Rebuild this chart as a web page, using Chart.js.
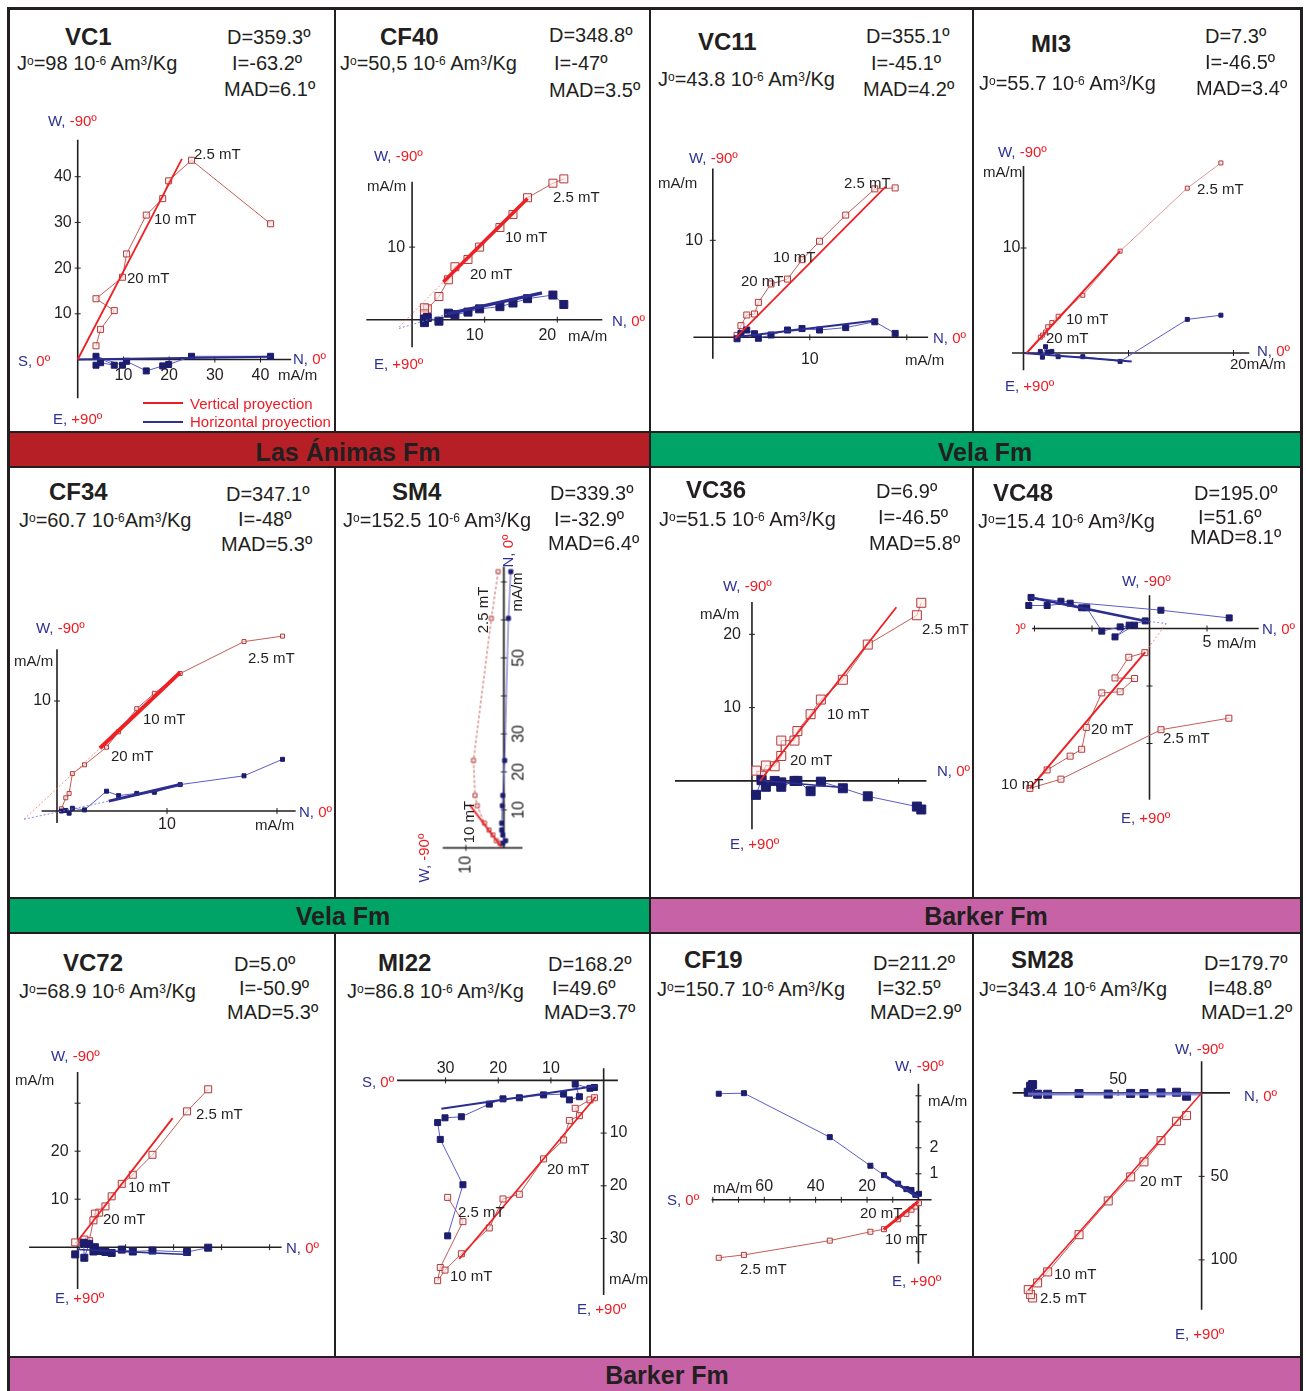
<!DOCTYPE html>
<html>
<head>
<meta charset="utf-8">
<title>Zijderveld diagrams</title>
<script src="https://cdn.jsdelivr.net/npm/chart.js@4.4.1/dist/chart.umd.min.js"></script>
<style>
  body { margin: 0; background: #fff; }
  #fig { position: relative; width: 1306px; height: 1391px; overflow: hidden;
         font-family: "Liberation Sans", Arial, sans-serif; color: #231f20; }
  .t { position: absolute; white-space: nowrap; line-height: 1; transform: translateY(-50%); }
  .rt { transform: translate(-50%, -50%) rotate(-90deg); }
  .nm { font-size: 24px; font-weight: bold; }
  .hd { font-size: 20px; }
  .al { font-size: 15px; }
  .b { color: #2e3192; }
  .r { color: #ed1c24; }
  sup { font-size: 0.6em; position: relative; top: -0.45em; vertical-align: baseline; }
  .ln { position: absolute; background: #231f20; }
  .band { position: absolute; }
  .bt { font-size: 25px; font-weight: bold; transform: translate(-50%, -50%); }
  canvas { position: absolute; }
</style>
</head>
<body>
<div id="fig"></div>
<script>
// Cabeceras de cada muestra
const sampleNames = ['VC1', 'CF40', 'VC11', 'MI3', 'CF34', 'SM4', 'VC36', 'VC48', 'VC72', 'MI22', 'CF19', 'SM28'];
const jValues = ['98', '50,5', '43.8', '55.7', '60.7', '152.5', '51.5', '15.4', '68.9', '86.8', '150.7', '343.4'];
const declValues = ['359.3', '348.8', '355.1', '7.3', '347.1', '339.3', '6.9', '195.0', '5.0', '168.2', '211.2', '179.7'];
const inclValues = ['-63.2', '-47', '-45.1', '-46.5', '-48', '-32.9', '-46.5', '51.6', '-50.9', '49.6', '32.5', '48.8'];
const madValues = ['6.1', '3.5', '4.2', '3.4', '5.3', '6.4', '5.8', '8.1', '5.3', '3.7', '2.9', '1.2'];
const formations = ['Las Ánimas Fm', 'Vela Fm', 'Vela Fm', 'Barker Fm', 'Barker Fm'];

// VC1
const vc1N = [42.2, 24.9, 19.9, 18.6, 15.0, 10.7, 9.8, 4.0, 8.0, 5.0, 4.0];
const vc1Up = [29.7, 43.6, 39.1, 35.2, 31.6, 23.1, 18.0, 13.3, 10.7, 6.6, 3.0];
const vc1W = [0.7, 0.7, -1.1, -1.4, -2.5, -0.4, -1.25, 0.7, -1.25, -0.7, -1.25];
const vc1FitV = [[0, 0], [22.8, 43.9]];
const vc1FitH = [[0, 0], [42.2, 0.6]];
const vc1XTicks = [10, 20, 30, 40], vc1XLabels = ['10', '20', '30', '40'];
const vc1YTicks = [10, 20, 30, 40], vc1YLabels = ['10', '20', '30', '40'];

// CF40
const cf40N = [20.9, 19.4, 15.9, 13.9, 12.1, 9.3, 7.7, 5.9, 5.0, 3.7, 2.1, 1.7, 1.7];
const cf40Up = [19.4, 18.8, 16.8, 14.5, 12.7, 10.0, 8.3, 7.3, 5.5, 3.2, 1.5, 1.65, 0.8];
const cf40W = [2.1, 3.4, 2.9, 2.3, 1.8, 1.5, 1.05, 0.7, 0.9, -0.2, 0.3, -0.4, 0.1];
const cf40FitV = [[4.3, 5.2], [15.9, 16.7]];
const cf40ExtV = [[-1.8, -1.0], [4.3, 5.2]];
const cf40FitH = [[4.9, 0.8], [17.9, 3.7]];
const cf40ExtH = [[-1.8, -1.2], [4.9, 0.8]];
const cf40XTicks = [10, 20], cf40XLabels = ['10', '20'];
const cf40YTicks = [10], cf40YLabels = ['10'];

// VC11
const vc11N = [18.8, 16.7, 13.7, 11.0, 9.2, 7.7, 6.0, 4.7, 4.3, 3.5, 2.9, 2.5];
const vc11Up = [15.4, 15.3, 12.6, 9.9, 8.0, 6.0, 5.5, 3.6, 2.4, 2.3, 1.2, 0.2];
const vc11W = [0.4, 1.6, 1.0, 0.75, 0.9, 0.75, 0.24, -0.1, 0.37, 0.75, 0.4, -0.15];
const vc11FitV = [[2.3, -0.1], [17.8, 15.5]];
const vc11FitH = [[2.3, 0], [16.6, 1.7]];
const vc11XTicks = [10, 20], vc11XLabels = ['10', ''];
const vc11YTicks = [10], vc11YLabels = ['10'];

// MI3
const mi3N = [18.8, 15.6, 9.2, 5.65, 3.3, 2.7, 2.3, 2.1, 1.8, 1.6];
const mi3Up = [18.1, 15.7, 9.7, 5.5, 3.5, 2.9, 2.5, 2.0, 1.7, 1.5];
const mi3W = [3.6, 3.2, -0.8, -0.35, -0.35, 0.15, 0.1, 0.6, -0.4, 0.15];
const mi3FitV = [[0.3, 0], [9.2, 9.7]];
const mi3FitH = [[0, 0], [10.3, -0.8]];
const mi3XTicks = [10, 20], mi3XLabels = ['', ''];
const mi3YTicks = [10], mi3YLabels = ['10'];

// CF34
const cf34N = [20.5, 17.0, 11.2, 8.85, 7.25, 5.6, 4.5, 2.5, 1.4, 1.1, 0.8, 0.4];
const cf34Up = [15.9, 15.4, 12.5, 10.7, 9.3, 7.2, 5.8, 4.2, 3.4, 1.6, 1.2, 0.2];
const cf34W = [4.7, 3.2, 2.4, 1.7, 1.6, 1.4, 1.8, 0.1, 0.25, -0.2, 0.05, 0];
const cf34FitV = [[3.9, 5.7], [11.2, 12.6]];
const cf34ExtV = [[-3.0, -0.75], [3.9, 5.7]];
const cf34FitH = [[4.7, 0.9], [11.4, 2.45]];
const cf34ExtH = [[-3.0, -0.75], [4.7, 0.9]];
const cf34XTicks = [10, 20], cf34XLabels = ['10', ''];
const cf34YTicks = [10], cf34YLabels = ['10'];

// SM4 (diagrama girado)
const sm4N = [72.7, 60.4, 23.0, 13.8, 11.1, 6.5, 4.7, 3.4, 1.9, 1.2];
const sm4Up = [1.5, 3.3, 8.0, 7.6, 7.0, 5.1, 3.9, 2.9, 2.0, 1.05];
const sm4W = [-1.8, -1.2, -0.2, 0.3, 0.4, 0.6, 0.6, 0.3, -0.45, 0.3];
const sm4FitV = [[0.3, 0.7], [11.3, 9.0]];
const sm4XTicks = [10, 20, 30, 40, 50, 60, 70], sm4XLabels = ['10', '20', '30', '', '50', '', ''];
const sm4YTicks = [10], sm4YLabels = ['10'];

// VC36
const vc36N = [23.1, 22.5, 15.8, 12.4, 9.4, 8.0, 6.2, 5.8, 4.0, 4.0, 3.1, 1.9, 1.3, 0.55];
const vc36Up = [24.3, 22.6, 18.6, 13.8, 11.1, 9.1, 6.8, 5.5, 5.5, 3.4, 2.0, 2.1, 0.7, 1.4];
const vc36W = [-3.9, -3.5, -2.1, -1.0, -0.1, -1.4, 0.0, 0.0, -0.8, -0.2, 0.0, -0.8, 0.1, -1.9];
const vc36FitV = [[1.1, 0], [19.7, 23.7]];
const vc36FitH = [[0.9, 0.1], [12.3, -0.9]];
const vc36XTicks = [10, 20], vc36XLabels = ['', ''];
const vc36YTicks = [10, 20], vc36YLabels = ['10', '20'];

// VC48
const vc48N = [6.9, 1.0, -7.7, -10.4, -8.9, -6.9, -5.9, -5.5, -4.15, -2.55, -1.3, -3.0, -1.8, -0.4];
const vc48Up = [-7.8, -8.8, -13.1, -13.9, -12.3, -11.1, -10.5, -8.6, -5.6, -5.5, -4.35, -4.3, -2.5, -2.1];
const vc48Nh = [6.93, 0.99, -7.7, -10.3, -10.5, -8.9, -6.9, -5.9, -5.45, -4.15, -2.55, -1.3, -3.0, -1.77, -0.37];
const vc48W = [0.92, 1.59, 2.37, 2.7, 2.0, 2.0, 2.2, 1.8, 1.8, -0.23, 0.14, 0.29, -0.73, 0.29, 0.66];
const vc48FitV = [[-0.37, -2.06], [-10.4, -13.9]];
const vc48FitH = [[-10.3, 2.7], [-0.37, 0.66]];
const vc48ExtH = [[-0.37, 0.66], [1.45, 0.43]];
const vc48ExtV = [[1.45, 0.43], [-0.37, -2.06]];
const vc48XTicks = [-10, -5, 5], vc48XLabels = ['', '', '5'];
const vc48YTicks = [-10, -5], vc48YLabels = ['', ''];

// VC72
const vc72N = [27.2, 22.8, 15.6, 11.5, 9.2, 7.1, 5.8, 4.5, 3.6, 3.3, 2.4, 1.4, 1.25, -0.5];
const vc72Up = [32.9, 28.3, 19.25, 15.1, 13.2, 10.6, 8.5, 7.2, 7.0, 5.6, 1.25, 1.6, 0.9, 1.0];
const vc72W = [-0.1, -1.0, -0.7, -0.9, -0.5, -1.2, -1.0, -0.8, 0, -0.9, 0.7, -2.2, 0.9, -1.5];
const vc72FitV = [[0.1, 1.4], [19.8, 26.9]];
const vc72FitH = [[0, -0.5], [22.8, -1.5]];
const vc72XTicks = [10, 20, 30, 40], vc72XLabels = ['', '', '', ''];
const vc72YTicks = [10, 20, 30], vc72YLabels = ['10', '20', ''];

// MI22 (S hacia la izquierda, abajo positivo)
const mi22S = [29.6, 26.7, 31.0, 31.5, 30.1, 27.0, 21.7, 19.1, 16.0, 11.4, 7.6, 6.5, 4.6, 5.4, 2.6, 1.75];
const mi22Down = [22.2, 26.8, 35.5, 38.0, 36.0, 32.9, 28.0, 22.5, 21.6, 14.9, 11.3, 7.6, 6.7, 5.3, 3.7, 3.3];
const mi22E = [29.5, 19.8, 11.2, 8.0, 7.1, 6.9, 4.5, 3.5, 3.3, 2.75, 2.6, 3.7, 3.1, 0.7, 1.5, 1.35];
const mi22FitV = [[27.4, 33.9], [1.5, 3.1]];
const mi22FitH = [[30.8, 5.4], [1.05, 1.0]];
const mi22XTicks = [10, 20, 30], mi22XLabels = ['10', '20', '30'];
const mi22YTicks = [10, 20, 30], mi22YLabels = ['10', '20', '30'];

// CF19 (escalas distintas en cada eje)
const cf19S = [77.7, 67.9, 34.5, 18.7, 13.4, 7.9, 4.7, 2.7, 1.2, -0.2];
const cf19W = [4.08, 4.1, 2.41, 1.31, 0.95, 0.62, 0.41, 0.38, 0.19, 0.23];
const cf19Up = [-2.23, -2.12, -1.57, -1.23, -1.13, -0.75, -0.54, -0.38, -0.26, -0.13];
const cf19FitV = [[13.5, -1.15], [0.15, -0.07]];
const cf19FitH = [[13.5, 0.95], [0.15, 0.1]];
const cf19XTicks = [10, 20, 30, 40, 50, 60, 70, 80], cf19XLabels = ['', '20', '', '40', '', '60', '', ''];
const cf19YTicks = [-2, -1, 1, 2, 3, 4], cf19YLabels = ['', '', '1', '2', '', ''];

// SM28
const sm28S = [101.2, 102.4, 103.8, 98.2, 92.2, 73.4, 55.9, 42.5, 34.5, 24.3, 15.0, 9.0];
const sm28Down = [122.8, 120.8, 117.8, 113.8, 107.2, 84.9, 64.7, 50.3, 41.3, 28.6, 17.0, 13.6];
const sm28E = [-5.0, -4.0, -0.4, 0.8, 0.8, 0.4, 0.7, 0.3, 0.4, 0, -0.4, 2.0];
const sm28FitV = [[0, 0], [103.8, 118.2]];
const sm28FitH = [[0, 0.6], [104, 0.6]];
const sm28XTicks = [50, 100], sm28XLabels = ['50', ''];
const sm28YTicks = [50, 100], sm28YLabels = ['50', '100'];

// Colores
const RED_LINE = 'rgb(196,92,88)', RED_MK = 'rgb(178,58,58)', RED_FIT = '#ed2024';
const BLUE_LINE = 'rgb(92,92,200)', BLUE_MK = '#1d1d6e', BLUE_FIT = '#2b2d8f';
const RED_DOT = 'rgba(240,120,110,0.8)', BLUE_DOT = 'rgba(110,110,210,0.8)';

const fig = document.getElementById('fig');

function txt(x, y, html, cls, rot) {
    const d = document.createElement('div');
    d.className = 't ' + (cls || '') + (rot ? ' rt' : '');
    d.innerHTML = html;
    d.style.left = x + 'px';
    d.style.top = y + 'px';
    fig.appendChild(d);
    return d;
}
function box(x, y, w, h, bg, cls) {
    const d = document.createElement('div');
    d.className = cls || 'ln';
    d.style.cssText = `left:${x}px;top:${y}px;width:${w}px;height:${h}px;` + (bg ? `background:${bg};` : '');
    fig.appendChild(d);
}
const axLbl = (a, b) => `<span class="b">${a},</span> <span class="r">${b}</span>`;
const pts = (xs, ys) => xs.map((x, i) => ({ x: x, y: ys[i] }));
const pairs = a => a.map(p => ({ x: p[0], y: p[1] }));

// Ejes cruzados en el origen, dibujados con las escalas del grafico
function axesPlugin(A) {
    return {
        id: 'zaxes',
        beforeDatasetsDraw(chart) {
            const { ctx, scales: { x, y } } = chart;
            const X = v => x.getPixelForValue(v), Y = v => y.getPixelForValue(v);
            ctx.save();
            ctx.strokeStyle = '#231f20';
            ctx.lineWidth = 1.6;
            ctx.beginPath();
            ctx.moveTo(X(A.xAxis[0]), Y(0)); ctx.lineTo(X(A.xAxis[1]), Y(0));
            ctx.moveTo(X(0), Y(A.yAxis[0])); ctx.lineTo(X(0), Y(A.yAxis[1]));
            ctx.stroke();
            ctx.lineWidth = 1;
            ctx.beginPath();
            A.xTicks.forEach(v => { ctx.moveTo(X(v), Y(0) - 3); ctx.lineTo(X(v), Y(0) + 3); });
            A.yTicks.forEach(v => { ctx.moveTo(X(0) - 3, Y(v)); ctx.lineTo(X(0) + 3, Y(v)); });
            ctx.stroke();
            ctx.font = '16px "Liberation Sans", Arial, sans-serif';
            ctx.fillStyle = '#231f20';
            ctx.textBaseline = 'middle';
            ctx.textAlign = 'center';
            A.xTicks.forEach((v, i) => { if (A.xLabels[i]) ctx.fillText(A.xLabels[i], X(v) + (A.xDx || 0), Y(0) + A.xDy); });
            ctx.textAlign = A.yDx < 0 ? 'right' : 'left';
            A.yTicks.forEach((v, i) => { if (A.yLabels[i]) ctx.fillText(A.yLabels[i], X(0) + A.yDx, Y(v)); });
            ctx.restore();
        }
    };
}

function makePanel(P) {
    const pad = 30;
    const kx = P.ppu, ky = P.ppuY || P.ppu;
    const xr = P.xr.slice(), yr = P.yr.slice();
    const w = Math.ceil((xr[1] - xr[0]) * kx + 2 * pad);
    const h = Math.ceil((yr[1] - yr[0]) * ky + 2 * pad);
    xr[1] = xr[0] + (w - 2 * pad) / kx;
    yr[0] = yr[1] - (h - 2 * pad) / ky;
    const u0 = pad + (P.rx ? xr[1] : -xr[0]) * kx;
    const v0 = pad + (P.ry ? -yr[0] : yr[1]) * ky;
    let left, top;
    if (P.rot) {
        left = P.origin[0] - w / 2 - (v0 - h / 2);
        top = P.origin[1] - h / 2 + (u0 - w / 2);
    } else {
        left = P.origin[0] - u0;
        top = P.origin[1] - v0;
    }
    const cv = document.createElement('canvas');
    cv.width = w; cv.height = h;
    cv.style.cssText = `left:${left}px;top:${top}px;width:${w}px;height:${h}px;` + (P.rot ? 'transform:rotate(-90deg);' : '');
    fig.appendChild(cv);

    const r = P.ms / Math.SQRT2;
    const datasets = [];
    P.fits.forEach(f => datasets.push({
        data: pairs(f.d), borderColor: f.c, borderWidth: f.w, borderDash: f.dash || [],
        pointRadius: 0, showLine: true, clip: false
    }));
    datasets.push({
        data: pts(P.hor[0], P.hor[1]), borderColor: BLUE_LINE, borderWidth: 1, showLine: true,
        pointStyle: 'rect', pointRadius: r, pointBackgroundColor: BLUE_MK, pointBorderColor: BLUE_MK,
        pointBorderWidth: 1, clip: false
    });
    datasets.push({
        data: pts(P.vert[0], P.vert[1]), borderColor: P.vColor || RED_LINE, borderWidth: 1, showLine: true,
        borderDash: P.vDash || [], pointStyle: 'rect', pointRadius: r,
        pointBackgroundColor: 'rgba(255,236,236,0.6)', pointBorderColor: RED_MK, pointBorderWidth: 1, clip: false
    });

    new Chart(cv, {
        type: 'scatter',
        data: { datasets: datasets },
        options: {
            responsive: false, animation: false, devicePixelRatio: 1, events: [],
            layout: { padding: pad },
            plugins: { legend: { display: false }, tooltip: { enabled: false } },
            scales: {
                x: { type: 'linear', min: xr[0], max: xr[1], reverse: !!P.rx, display: false },
                y: { type: 'linear', min: yr[0], max: yr[1], reverse: !!P.ry, display: false }
            }
        },
        plugins: [axesPlugin(P.ax)]
    });
}

const fit = (d, c, w, dash) => ({ d: d, c: c, w: w, dash: dash });
const DOTS = [2, 2];

const PANELS = [
    { origin: [77.3, 359.3], ppu: 4.57, xr: [-3, 49], yr: [-11, 50], ms: 6,
      vert: [vc1N, vc1Up], hor: [vc1N, vc1W],
      fits: [fit(vc1FitV, RED_FIT, 1.8), fit(vc1FitH, BLUE_FIT, 1.8)],
      ax: { xAxis: [0, 46.7], yAxis: [-8.5, 48.1], xTicks: vc1XTicks, xLabels: vc1XLabels, xDy: 16,
            yTicks: vc1YTicks, yLabels: vc1YLabels, yDx: -6 } },
    { origin: [411.7, 319.3], ppu: 7.26, xr: [-8, 28], yr: [-6, 22], ms: 8,
      vert: [cf40N, cf40Up], hor: [cf40N, cf40W],
      fits: [fit(cf40FitV, RED_FIT, 3.5), fit(cf40ExtV, RED_DOT, 1, DOTS), fit(cf40FitH, BLUE_FIT, 3.5), fit(cf40ExtH, BLUE_DOT, 1, DOTS)],
      ax: { xAxis: [-6.3, 26.2], yAxis: [-3.8, 19.0], xTicks: cf40XTicks, xLabels: cf40XLabels, xDx: -10, xDy: 16,
            yTicks: cf40YTicks, yLabels: cf40YLabels, yDx: -7 } },
    { origin: [712.7, 337.3], ppu: 9.7, xr: [-4, 24], yr: [-4, 19], ms: 6,
      vert: [vc11N, vc11Up], hor: [vc11N, vc11W],
      fits: [fit(vc11FitV, RED_FIT, 1.8), fit(vc11FitH, BLUE_FIT, 2)],
      ax: { xAxis: [-2.0, 22.2], yAxis: [-2.2, 17.4], xTicks: vc11XTicks, xLabels: vc11XLabels, xDy: 22,
            yTicks: vc11YTicks, yLabels: vc11YLabels, yDx: -10 } },
    { origin: [1023.7, 353.3], ppu: 10.5, xr: [-3, 23], yr: [-3, 20], ms: 4, vColor: 'rgb(222,150,150)',
      vert: [mi3N, mi3Up], hor: [mi3N, mi3W],
      fits: [fit(mi3FitV, RED_FIT, 2), fit(mi3FitH, BLUE_FIT, 2)],
      ax: { xAxis: [-1.1, 21.5], yAxis: [-1.65, 17.8], xTicks: mi3XTicks, xLabels: mi3XLabels, xDy: 15,
            yTicks: mi3YTicks, yLabels: mi3YLabels, yDx: -3 } },
    { origin: [57.3, 810.7], ppu: 11, xr: [-5, 23], yr: [-3, 17], ms: 4,
      vert: [cf34N, cf34Up], hor: [cf34N, cf34W],
      fits: [fit(cf34FitV, RED_FIT, 4), fit(cf34ExtV, RED_DOT, 1, DOTS), fit(cf34FitH, BLUE_FIT, 3), fit(cf34ExtH, BLUE_DOT, 1, DOTS)],
      ax: { xAxis: [-1.4, 21.7], yAxis: [-1.1, 14.7], xTicks: cf34XTicks, xLabels: cf34XLabels, xDy: 14,
            yTicks: cf34YTicks, yLabels: cf34YLabels, yDx: -6 } },
    { origin: [504.3, 848], ppu: 3.8, xr: [-2, 78], yr: [-8, 18], ms: 4, rot: true, vDash: [3, 2],
      vert: [sm4N, sm4Up], hor: [sm4N, sm4W],
      fits: [fit(sm4FitV, RED_FIT, 1.8)],
      ax: { xAxis: [0, 74], yAxis: [-4.9, 16.1], xTicks: sm4XTicks, xLabels: sm4XLabels, xDy: 15,
            yTicks: sm4YTicks, yLabels: sm4YLabels, yDx: -8 } },
    { origin: [751.7, 780.7], ppu: 7.33, xr: [-12, 26], yr: [-8, 27], ms: 9,
      vert: [vc36N, vc36Up], hor: [vc36N, vc36W],
      fits: [fit(vc36FitV, RED_FIT, 1.8), fit(vc36FitH, BLUE_FIT, 1.5)],
      ax: { xAxis: [-10.5, 23.8], yAxis: [-6.6, 24.4], xTicks: vc36XTicks, xLabels: vc36XLabels, xDy: 15,
            yTicks: vc36YTicks, yLabels: vc36YLabels, yDx: -11 } },
    { origin: [1149, 628.3], ppu: 11.5, xr: [-13, 11], yr: [-17, 5], ms: 6,
      vert: [vc48N, vc48Up], hor: [vc48Nh, vc48W],
      fits: [fit(vc48FitV, RED_FIT, 2), fit(vc48FitH, BLUE_FIT, 2.5), fit(vc48ExtH, BLUE_DOT, 1, DOTS), fit(vc48ExtV, RED_DOT, 1, DOTS)],
      ax: { xAxis: [-10.2, 9.5], yAxis: [-14.9, 2.9], xTicks: vc48XTicks, xLabels: vc48XLabels, xDy: 14,
            yTicks: vc48YTicks, yLabels: vc48YLabels, yDx: -6 } },
    { origin: [77.3, 1246.7], ppu: 4.8, xr: [-12, 45], yr: [-11, 39], ms: 7,
      vert: [vc72N, vc72Up], hor: [vc72N, vc72W],
      fits: [fit(vc72FitV, RED_FIT, 1.8), fit(vc72FitH, BLUE_FIT, 1.5)],
      ax: { xAxis: [-10.1, 42.5], yAxis: [-8.7, 36.5], xTicks: vc72XTicks, xLabels: vc72XLabels, xDy: 15,
            yTicks: vc72YTicks, yLabels: vc72YLabels, yDx: -9 } },
    { origin: [603.5, 1080.5], ppu: 5.27, xr: [-5, 42], yr: [-5, 43], rx: true, ry: true, ms: 6,
      vert: [mi22S, mi22Down], hor: [mi22S, mi22E],
      fits: [fit(mi22FitV, RED_FIT, 1.8), fit(mi22FitH, BLUE_FIT, 2)],
      ax: { xAxis: [-2.7, 39.2], yAxis: [-2.3, 40.7], xTicks: mi22XTicks, xLabels: mi22XLabels, xDy: -12,
            yTicks: mi22YTicks, yLabels: mi22YLabels, yDx: 6 } },
    { origin: [918.7, 1199.3], ppu: 2.57, ppuY: 26, xr: [-8, 83], yr: [-2.8, 4.8], rx: true, ms: 5,
      vert: [cf19S, cf19Up], hor: [cf19S, cf19W],
      fits: [fit(cf19FitV, RED_FIT, 3), fit(cf19FitH, BLUE_FIT, 3)],
      ax: { xAxis: [-5.1, 80.5], yAxis: [-2.46, 4.46], xTicks: cf19XTicks, xLabels: cf19XLabels, xDy: -13,
            yTicks: cf19YTicks, yLabels: cf19YLabels, yDx: 11 } },
    { origin: [1201.3, 1093.3], ppu: 1.67, xr: [-20, 117], yr: [-22, 133], rx: true, ry: true, ms: 8,
      vert: [sm28S, sm28Down], hor: [sm28S, sm28E],
      fits: [fit(sm28FitV, RED_FIT, 1.5), fit(sm28FitH, 'rgba(120,120,215,0.8)', 3)],
      ax: { xAxis: [-17, 113.2], yAxis: [-18.9, 129.8], xTicks: sm28XTicks, xLabels: sm28XLabels, xDy: -13,
            yTicks: sm28YTicks, yLabels: sm28YLabels, yDx: 9 } }
];

// Cabeceras: [nombre, J, D, I, MAD] -> [x, y]
const HEAD_POS = [
    [[65, 37], [17, 63], [227, 37], [232, 63], [224, 89]],
    [[380, 37], [340, 63], [549, 35], [554, 63], [549, 90]],
    [[698, 42], [658, 79], [866, 36], [871, 63], [863, 89]],
    [[1031, 44], [979, 83], [1205, 36], [1205, 62], [1196, 88]],
    [[49, 492], [19, 520], [226, 494], [238, 519], [221, 544]],
    [[392, 492], [343, 520], [550, 493], [554, 519], [548, 543]],
    [[686, 490], [659, 519], [876, 491], [878, 517], [869, 543]],
    [[993, 493], [978, 521], [1194, 493], [1198, 517], [1190, 537]],
    [[63, 963], [19, 991], [234, 964], [239, 988], [227, 1012]],
    [[378, 963], [347, 991], [548, 964], [552, 988], [544, 1012]],
    [[684, 960], [657, 989], [873, 963], [877, 988], [870, 1012]],
    [[1011, 960], [979, 989], [1204, 963], [1208, 988], [1201, 1012]]
];

// Fondos de formacion
box(10, 433, 640, 33, '#b71f27', 'band');
box(650, 433, 650, 33, '#00a466', 'band');
box(10, 899, 640, 33, '#00a466', 'band');
box(650, 899, 650, 33, '#c862a7', 'band');
box(10, 1358, 1290, 33, '#c862a7', 'band');
txt(348, 452, formations[0], 'bt');
txt(985, 452, formations[1], 'bt');
txt(343, 916, formations[2], 'bt');
txt(986, 916, formations[3], 'bt');
txt(667, 1375, formations[4], 'bt');

// Marco
box(7, 7, 1296, 3);
box(7, 7, 3, 1384);
box(1300, 7, 3, 1384);
[431, 466, 897, 932, 1356].forEach(y => box(7, y, 1296, 2));
box(649, 8, 2, 1350);
[334, 972].forEach(x => { box(x, 8, 2, 424); box(x, 467, 2, 431); box(x, 933, 2, 424); });

PANELS.forEach(makePanel);

HEAD_POS.forEach((p, i) => {
    const unit = i === 4 ? ' 10<sup>-6</sup>Am<sup>3</sup>/Kg' : ' 10<sup>-6</sup> Am<sup>3</sup>/Kg';
    txt(p[0][0], p[0][1], sampleNames[i], 'nm');
    txt(p[1][0], p[1][1], 'J<sup>o</sup>=' + jValues[i] + unit, 'hd');
    txt(p[2][0], p[2][1], 'D=' + declValues[i] + 'º', 'hd');
    txt(p[3][0], p[3][1], 'I=' + inclValues[i] + 'º', 'hd');
    txt(p[4][0], p[4][1], 'MAD=' + madValues[i] + 'º', 'hd');
});

// Rotulos de ejes y pasos de desmagnetizacion
const W90 = axLbl('W', '-90º'), E90 = axLbl('E', '+90º'), N0 = axLbl('N', '0º'), S0 = axLbl('S', '0º');
const LABELS = [
    [48, 120, W90], [18, 360, S0], [293, 358, N0], [278, 374, 'mA/m'], [53, 418, E90],
    [194, 153, '2.5 mT'], [154, 218, '10 mT'], [127, 277, '20 mT'],
    [374, 155, W90], [367, 185, 'mA/m'], [612, 320, N0], [568, 335, 'mA/m'], [374, 363, E90],
    [553, 196, '2.5 mT'], [505, 236, '10 mT'], [470, 273, '20 mT'],
    [689, 157, W90], [658, 182, 'mA/m'], [933, 337, N0], [905, 359, 'mA/m'],
    [844, 182, '2.5 mT'], [773, 256, '10 mT'], [741, 280, '20 mT'],
    [998, 151, W90], [983, 171, 'mA/m'], [1257, 350, N0], [1230, 363, '20mA/m'], [1005, 385, E90],
    [1197, 188, '2.5 mT'], [1066, 318, '10 mT'], [1046, 337, '20 mT'],
    [36, 627, W90], [14, 660, 'mA/m'], [299, 811, N0], [255, 824, 'mA/m'],
    [248, 657, '2.5 mT'], [143, 718, '10 mT'], [111, 755, '20 mT'],
    [723, 585, W90], [700, 613, 'mA/m'], [937, 770, N0], [730, 843, E90],
    [922, 628, '2.5 mT'], [827, 713, '10 mT'], [790, 759, '20 mT'],
    [1122, 580, W90], [1262, 628, N0], [1217, 642, 'mA/m'], [1121, 817, E90],
    [1163, 737, '2.5 mT'], [1091, 728, '20 mT'], [1001, 783, '10 mT'],
    [51, 1055, W90], [15, 1079, 'mA/m'], [286, 1247, N0], [55, 1297, E90],
    [196, 1113, '2.5 mT'], [128, 1186, '10 mT'], [103, 1218, '20 mT'],
    [362, 1081, S0], [577, 1308, E90], [609, 1278, 'mA/m'],
    [547, 1168, '20 mT'], [458, 1211, '2.5 mT'], [450, 1275, '10 mT'],
    [895, 1065, W90], [928, 1100, 'mA/m'], [713, 1187, 'mA/m'], [667, 1199, S0], [892, 1280, E90],
    [860, 1212, '20 mT'], [885, 1238, '10 mT'], [740, 1268, '2.5 mT'],
    [1175, 1048, W90], [1244, 1095, N0], [1175, 1333, E90],
    [1140, 1180, '20 mT'], [1054, 1273, '10 mT'], [1040, 1297, '2.5 mT']
];
LABELS.forEach(l => txt(l[0], l[1], l[2], 'al'));
const cut = txt(1012, 628, '<span class="r">0º</span>', 'al');
cut.style.clipPath = 'inset(0 0 0 4px)';

// SM4 girado
[[507, 551, N0], [516, 592, 'mA/m'], [482, 610, '2.5 mT'], [468, 822, '10 mT'], [423, 858, W90]]
    .forEach(l => txt(l[0], l[1], l[2], 'al', true));

// Leyenda de VC1
box(143, 402, 40, 1.5, '#ed1c24');
box(143, 421, 40, 1.5, '#2e3192');
txt(190, 403, '<span class="r">Vertical proyection</span>', 'al');
txt(190, 421, '<span class="r">Horizontal proyection</span>', 'al');
</script>
</body>
</html>
